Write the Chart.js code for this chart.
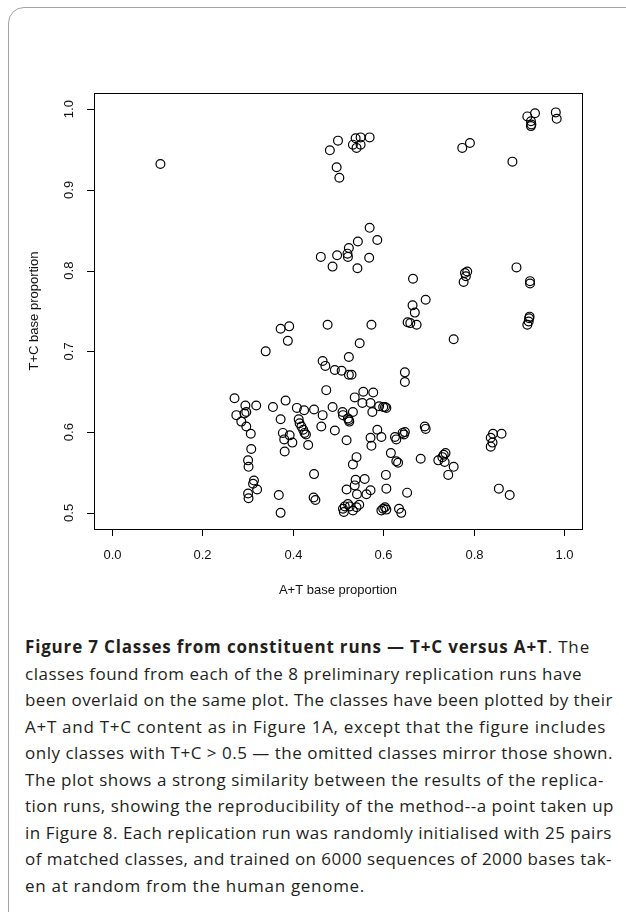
<!DOCTYPE html>
<html>
<head>
<meta charset="utf-8">
<script src="https://cdn.jsdelivr.net/npm/chart.js@4.4.1/dist/chart.umd.min.js"></script>
<style>
  html, body { margin: 0; padding: 0; background: #fff; width: 626px; height: 912px; overflow: hidden; }
  .card { position: absolute; left: 8px; top: 7px; width: 660px; height: 980px; border: 1.5px solid #a3a3a3; border-radius: 16px; box-sizing: border-box; }
  #wrap { position: absolute; left: 0; top: 0; width: 626px; height: 610px; }
  .caption { position: absolute; left: 25px; top: 634px; font-family: "Open Sans", Lato, sans-serif; font-size: 17px; line-height: 26.5px; color: #231f20; }
  .caption .ln { display: block; white-space: nowrap; }
  .caption b { font-weight: 700; }
</style>
</head>
<body>
<div class="card"></div>
<div id="wrap"><canvas id="chart" width="626" height="610"></canvas></div>
<div class="caption" id="caption"></div>
<script>
// A+T base proportion (x) and T+C base proportion (y) of each class
const atValues = [
  0.107, 0.482, 0.500, 0.497, 0.503, 0.539, 0.550, 0.533, 0.541, 0.550, 0.570,
  0.775, 0.792, 0.886, 0.919, 0.936, 0.927, 0.928, 0.927, 0.982, 0.984,
  0.570, 0.587, 0.544, 0.524, 0.521, 0.522, 0.498, 0.462, 0.488, 0.543, 0.569,
  0.666, 0.694, 0.665, 0.670, 0.781, 0.786, 0.783, 0.778, 0.895, 0.925, 0.925,
  0.654, 0.660, 0.674, 0.477, 0.574, 0.756, 0.919, 0.922, 0.923, 0.924,
  0.548, 0.524, 0.466, 0.472, 0.493, 0.508, 0.524, 0.530, 0.648, 0.648,
  0.373, 0.392, 0.389, 0.340,
  0.474, 0.556, 0.578, 0.537, 0.554, 0.572, 0.576, 0.591, 0.600, 0.604, 0.607,
  0.488, 0.510, 0.511, 0.533, 0.522, 0.525, 0.524, 0.466, 0.463, 0.493, 0.519,
  0.587, 0.596, 0.572, 0.574, 0.626, 0.629, 0.643, 0.648, 0.646, 0.692, 0.694,
  0.838, 0.843, 0.862, 0.842, 0.838,
  0.271, 0.295, 0.319, 0.297, 0.293, 0.275, 0.286, 0.297, 0.307, 0.308, 0.301,
  0.302, 0.314, 0.312, 0.321, 0.301, 0.302, 0.369, 0.373, 0.356, 0.384, 0.373,
  0.409, 0.425, 0.447, 0.413, 0.415, 0.419, 0.423, 0.426, 0.429, 0.378, 0.393,
  0.381, 0.399, 0.382, 0.434, 0.447, 0.446, 0.450,
  0.541, 0.533, 0.617, 0.629, 0.633, 0.683, 0.738, 0.734, 0.731, 0.722, 0.736,
  0.756, 0.744, 0.606, 0.539, 0.559, 0.537, 0.519, 0.542, 0.563, 0.572, 0.607,
  0.653, 0.856, 0.880,
  0.511, 0.515, 0.522, 0.526, 0.533, 0.541, 0.547, 0.513, 0.600, 0.604, 0.607,
  0.596, 0.635, 0.640
];
const tcValues = [
  0.932, 0.949, 0.961, 0.928, 0.915, 0.964, 0.965, 0.956, 0.952, 0.956, 0.965,
  0.952, 0.958, 0.935, 0.991, 0.995, 0.985, 0.981, 0.979, 0.996, 0.988,
  0.853, 0.838, 0.836, 0.828, 0.821, 0.817, 0.819, 0.817, 0.805, 0.803, 0.816,
  0.790, 0.764, 0.757, 0.748, 0.797, 0.799, 0.793, 0.786, 0.804, 0.787, 0.784,
  0.736, 0.735, 0.733, 0.733, 0.733, 0.715, 0.733, 0.737, 0.741, 0.743,
  0.710, 0.693, 0.688, 0.682, 0.677, 0.676, 0.671, 0.671, 0.674, 0.662,
  0.728, 0.731, 0.713, 0.700,
  0.652, 0.650, 0.649, 0.643, 0.636, 0.636, 0.625, 0.632, 0.631, 0.631, 0.630,
  0.631, 0.625, 0.621, 0.625, 0.617, 0.613, 0.615, 0.621, 0.607, 0.602, 0.590,
  0.603, 0.594, 0.593, 0.583, 0.594, 0.591, 0.599, 0.600, 0.597, 0.607, 0.604,
  0.593, 0.598, 0.598, 0.587, 0.582,
  0.642, 0.633, 0.633, 0.625, 0.623, 0.621, 0.613, 0.607, 0.598, 0.579, 0.565,
  0.557, 0.540, 0.536, 0.529, 0.524, 0.518, 0.522, 0.500, 0.631, 0.639, 0.616,
  0.630, 0.627, 0.628, 0.616, 0.611, 0.607, 0.603, 0.599, 0.597, 0.599, 0.596,
  0.591, 0.587, 0.576, 0.584, 0.548, 0.519, 0.516,
  0.569, 0.560, 0.574, 0.564, 0.562, 0.567, 0.574, 0.572, 0.569, 0.565, 0.563,
  0.557, 0.547, 0.547, 0.541, 0.542, 0.534, 0.529, 0.523, 0.523, 0.528, 0.530,
  0.525, 0.530, 0.522,
  0.505, 0.508, 0.511, 0.508, 0.503, 0.507, 0.510, 0.501, 0.505, 0.507, 0.504,
  0.503, 0.505, 0.500
];
const xTicks = [0, 0.2, 0.4, 0.6, 0.8, 1.0];
const xTickLabels = ['0.0', '0.2', '0.4', '0.6', '0.8', '1.0'];
const yTicks = [0.5, 0.6, 0.7, 0.8, 0.9, 1.0];
const yTickLabels = ['0.5', '0.6', '0.7', '0.8', '0.9', '1.0'];
const xTitle = 'A+T base proportion';
const yTitle = 'T+C base proportion';

const captionLines = [
  '<b>Figure 7 Classes from constituent runs — T+C versus A+T</b>. The',
  'classes found from each of the 8 preliminary replication runs have',
  'been overlaid on the same plot. The classes have been plotted by their',
  'A+T and T+C content as in Figure 1A, except that the figure includes',
  'only classes with T+C &gt; 0.5 — the omitted classes mirror those shown.',
  'The plot shows a strong similarity between the results of the replica-',
  'tion runs, showing the reproducibility of the method--a point taken up',
  'in Figure 8. Each replication run was randomly initialised with 25 pairs',
  'of matched classes, and trained on 6000 sequences of 2000 bases tak-',
  'en at random from the human genome.'
];
const captionWidths = [565, 557, 588, 581, 588, 579, 589, 587, 587, 340];

const FONT = '"Liberation Sans", Arial, sans-serif';

const rFrame = {
  id: 'rFrame',
  afterDraw(chart) {
    const { ctx, chartArea: a, scales } = chart;
    const xs = scales.x, ys = scales.y;
    ctx.save();
    ctx.strokeStyle = '#000';
    ctx.lineWidth = 1;
    ctx.strokeRect(Math.round(a.left) + 0.5, Math.round(a.top) + 0.5,
      Math.round(a.right - a.left), Math.round(a.bottom - a.top));
    ctx.fillStyle = '#111';
    ctx.font = '13px ' + FONT;
    ctx.textAlign = 'center';
    ctx.textBaseline = 'middle';
    ctx.beginPath();
    xTicks.forEach((v, i) => {
      const px = Math.round(xs.getPixelForValue(v)) + 0.5;
      ctx.moveTo(px, a.bottom);
      ctx.lineTo(px, a.bottom + 7);
      ctx.fillText(xTickLabels[i], px, 555);
    });
    yTicks.forEach((v) => {
      const py = Math.round(ys.getPixelForValue(v)) + 0.5;
      ctx.moveTo(a.left, py);
      ctx.lineTo(a.left - 7, py);
    });
    ctx.stroke();
    yTicks.forEach((v, i) => {
      const py = ys.getPixelForValue(v);
      ctx.save();
      ctx.translate(69, py);
      ctx.rotate(-Math.PI / 2);
      ctx.fillText(yTickLabels[i], 0, 0);
      ctx.restore();
    });
    ctx.fillText(xTitle, (a.left + a.right) / 2, 590);
    ctx.save();
    ctx.translate(34, (a.top + a.bottom) / 2);
    ctx.rotate(-Math.PI / 2);
    ctx.fillText(yTitle, 0, 0);
    ctx.restore();
    ctx.restore();
  }
};

const ctx = document.getElementById('chart').getContext('2d');
new Chart(ctx, {
  type: 'scatter',
  data: {
    datasets: [{
      data: atValues.map((x, i) => ({ x: x, y: tcValues[i] })),
      pointStyle: 'circle',
      pointRadius: 4.4,
      pointHoverRadius: 4.4,
      pointBorderWidth: 1.2,
      pointBorderColor: '#000',
      pointBackgroundColor: 'rgba(0,0,0,0)'
    }]
  },
  options: {
    responsive: false,
    animation: false,
    events: [],
    layout: { padding: { left: 0, top: 93, right: 44, bottom: 0 } },
    plugins: { legend: { display: false }, tooltip: { enabled: false } },
    scales: {
      x: {
        type: 'linear', min: -0.04, max: 1.04,
        grid: { display: false }, border: { display: false },
        ticks: { display: false },
        afterFit(s) { s.height = 610 - 529; }
      },
      y: {
        type: 'linear', min: 0.48, max: 1.02,
        grid: { display: false }, border: { display: false },
        ticks: { display: false },
        afterFit(s) { s.width = 94; }
      }
    }
  },
  plugins: [rFrame]
});

// caption, one block per printed line, stretched or squeezed to the printed width
const cap = document.getElementById('caption');
captionLines.forEach((html) => {
  const el = document.createElement('span');
  el.className = 'ln';
  el.innerHTML = html;
  cap.appendChild(el);
});
function fitCaption() {
  cap.querySelectorAll('.ln').forEach((el, i) => {
    el.style.letterSpacing = '0px';
    el.style.display = 'inline-block';
    const w = el.getBoundingClientRect().width;
    const n = el.textContent.length;
    el.style.letterSpacing = ((captionWidths[i] - w) / n).toFixed(3) + 'px';
    el.style.display = 'block';
  });
}
fitCaption();
if (document.fonts) document.fonts.ready.then(fitCaption);
</script>
</body>
</html>
